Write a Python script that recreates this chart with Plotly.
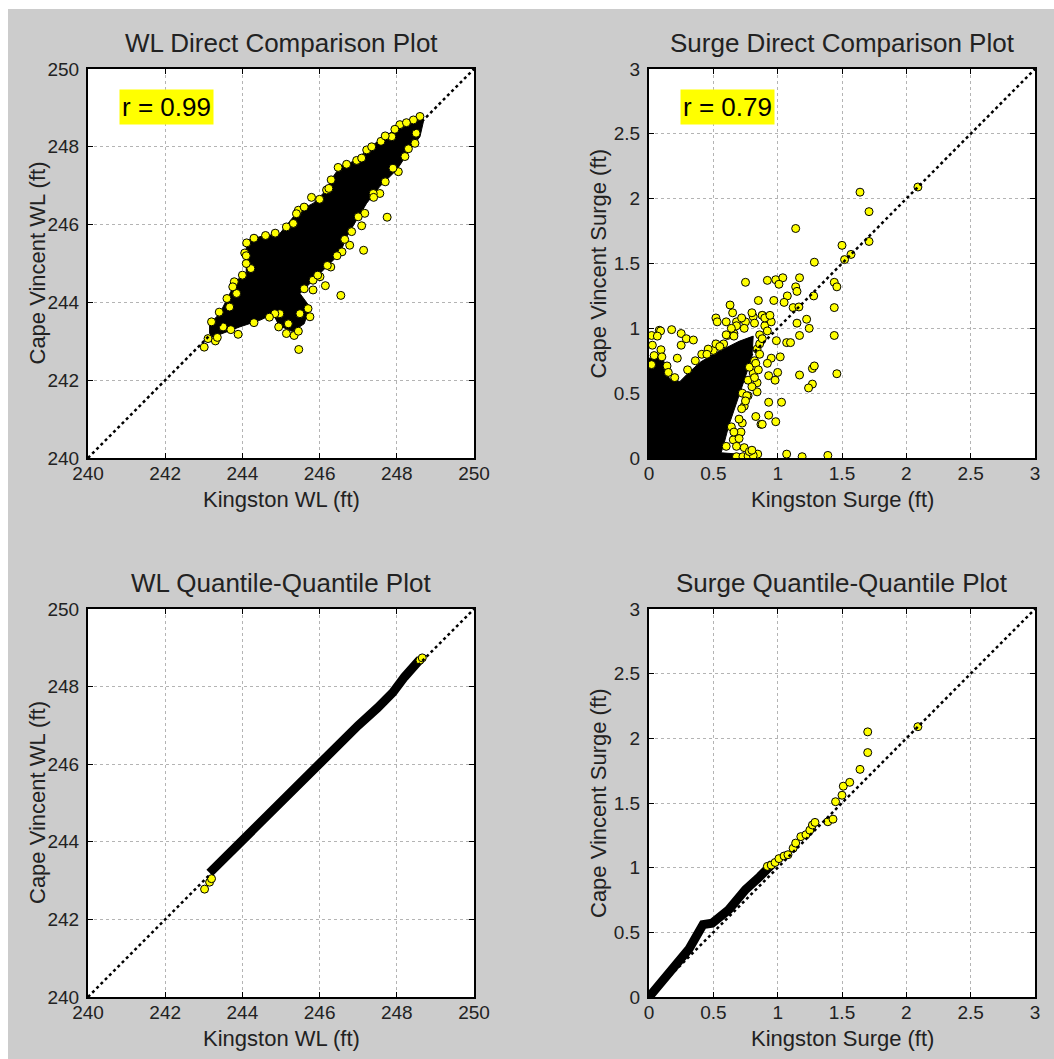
import plotly.graph_objects as go

W, H = 1054, 1059
FONT = "Liberation Sans, Arial, Helvetica, sans-serif"
TXT = "#222222"

# ---------------- data ----------------
wl_ticks = [240, 242, 244, 246, 248, 250]
wl_tick_labels = ["240", "242", "244", "246", "248", "250"]
surge_ticks = [0, 0.5, 1, 1.5, 2, 2.5, 3]
surge_tick_labels = ["0", "0.5", "1", "1.5", "2", "2.5", "3"]
wl_diag = [240, 250]
surge_diag = [0, 3]

titles = ["WL Direct Comparison Plot", "Surge Direct Comparison Plot",
          "WL Quantile-Quantile Plot", "Surge Quantile-Quantile Plot"]
x_titles = ["Kingston WL (ft)", "Kingston Surge (ft)", "Kingston WL (ft)", "Kingston Surge (ft)"]
y_titles = ["Cape Vincent WL (ft)", "Cape Vincent Surge (ft)",
            "Cape Vincent WL (ft)", "Cape Vincent Surge (ft)"]
r_labels = ["r = 0.99", "r = 0.79"]

# WL direct comparison: dense (saturated) core outline
wl_core_x = [243.15, 243.15, 243.41, 243.67, 243.85, 244.10, 244.10, 244.15, 244.45, 244.97,
             245.32, 245.49, 245.84, 246.18, 246.35, 246.53, 246.96, 247.22, 247.56, 248.08,
             248.34, 248.60, 248.69, 248.60, 248.34, 248.00, 247.56, 247.22, 246.96, 246.70,
             246.53, 246.18, 245.84, 245.49, 245.75, 245.60, 245.30, 244.95, 244.80, 244.45,
             243.93, 243.50, 243.24]
wl_core_y = [243.20, 243.45, 243.71, 244.23, 244.57, 244.74, 245.43, 245.60, 245.69, 245.77,
             246.20, 246.37, 246.55, 246.89, 247.23, 247.49, 247.66, 247.92, 248.18, 248.52,
             248.69, 248.78, 248.65, 248.26, 247.92, 247.41, 246.98, 246.55, 246.12, 245.69,
             245.26, 244.91, 244.57, 244.23, 243.88, 243.45, 243.25, 243.40, 243.70, 243.54,
             243.37, 243.20, 243.11]
# WL direct comparison: individual visible points
wl_x = [245.46, 246.55, 246.15, 245.83, 247.14, 247.75, 247.09, 245.79, 246.58, 246.29,
        247.22, 247.59, 244.06, 244.11, 243.79, 244.22, 243.01, 243.11, 243.30, 243.89,
        244.94, 245.14, 245.34, 245.45, 245.19, 245.49, 245.70, 245.75, 244.97, 244.84,
        248.60, 248.43, 248.08, 247.87, 246.96, 247.09, 246.48, 246.18, 246.24, 245.45,
        245.14, 245.32, 248.47, 248.21, 248.04, 247.56, 247.39, 247.17, 246.83, 246.78,
        246.01, 245.83, 243.50, 243.67, 243.85,
        243.20, 243.40, 243.60, 243.75, 244.00, 244.10, 244.10, 244.30, 244.60, 244.85,
        245.40, 245.60, 246.00, 246.30, 246.70, 247.35, 247.70, 247.95, 248.25,
        248.50, 248.30, 247.90, 247.70, 247.40, 247.00, 246.65, 246.45, 246.20, 245.95,
        245.60, 244.70, 244.30, 243.70, 243.35]
wl_y = [242.79, 244.18, 244.43, 244.32, 245.34, 246.19, 245.97, 246.70, 245.30, 244.91,
        247.92, 248.14, 245.27, 245.53, 244.53, 244.87, 242.85, 243.07, 243.01, 243.18,
        243.37, 243.20, 243.15, 243.26, 243.45, 243.71, 243.84, 243.63, 243.71, 243.71,
        248.78, 248.69, 248.57, 248.26, 247.65, 247.71, 247.47, 246.89, 246.93, 246.37,
        245.94, 246.03, 248.09, 247.75, 247.36, 246.80, 246.80, 246.29, 245.82, 245.47,
        244.66, 244.57, 243.37, 243.88, 244.23,
        243.50, 243.75, 244.10, 244.40, 244.70, 245.00, 245.20, 245.65, 245.72, 245.78,
        246.28, 246.45, 246.65, 247.15, 247.55, 248.00, 248.28, 248.45, 248.62,
        248.35, 247.95, 247.45, 247.10, 246.70, 246.20, 245.62, 245.20, 244.95, 244.70,
        244.35, 243.62, 243.48, 243.30, 243.10]

# Surge direct comparison: dense core outline
surge_core_x = [0.00, 0.00, 0.11, 0.13, 0.16, 0.24, 0.30, 0.40, 0.50, 0.60, 0.70, 0.81,
                0.80, 0.74, 0.68, 0.62, 0.58, 0.56, 0.70, 0.84, 0.84]
surge_core_y = [0.00, 0.77, 0.77, 0.68, 0.61, 0.59, 0.65, 0.74, 0.80, 0.85, 0.90, 0.94,
                0.78, 0.60, 0.42, 0.25, 0.10, 0.04, 0.03, 0.02, 0.00]
# Surge direct comparison: individual visible points
surge_x = [2.09, 1.64, 1.71, 1.71, 1.50, 1.52, 1.57, 1.14, 1.285, 0.75, 0.92, 0.985, 1.04,
           1.01, 1.17, 1.14, 1.15, 1.44, 1.46, 1.28, 1.075, 0.97, 1.05, 1.12, 1.165, 1.44,
           1.225, 1.245, 1.15, 1.17, 1.44, 1.07, 1.10, 0.99, 1.02, 0.95, 0.92, 1.00, 0.93,
           0.98, 1.17, 1.46, 1.27, 1.285, 1.27, 1.24, 0.93, 1.03, 0.83, 0.93, 0.87, 0.985,
           1.07, 1.19, 1.39, 0.845, 0.88, 0.52, 0.53, 0.63, 0.65, 0.60, 0.68, 0.81, 0.88,
           0.85, 0.61, 0.66,
           0.026, 0.02, 0.08, 0.09, 0.176, 0.25, 0.25, 0.29, 0.345, 0.093, 0.22, 0.14, 0.02,
           0.065,
           0.41, 0.50, 0.58, 0.725, 0.77, 0.74, 0.725, 0.715, 0.655,
           0.68, 0.81, 0.77, 0.84, 0.84, 0.64, 0.60, 0.68, 0.73, 0.77, 0.81,
           0.78, 0.82, 0.80, 0.76, 0.72, 0.70, 0.66, 0.70, 0.74, 0.78, 0.80,
           0.86, 0.90, 0.75, 0.68, 0.60, 0.92, 0.95, 0.88, 0.80,
           0.84, 0.86, 0.88, 0.83, 0.86, 0.75, 0.82, 0.85,
           0.66, 0.74, 0.82, 0.90, 0.94, 0.72, 0.64, 0.52, 0.46,
           0.30, 0.36, 0.45, 0.55, 0.04, 0.10, 0.15, 0.20]
surge_y = [2.09, 2.05, 1.90, 1.67, 1.64, 1.53, 1.57, 1.77, 1.51, 1.355, 1.37, 1.375, 1.39,
           1.34, 1.39, 1.32, 1.285, 1.355, 1.32, 1.25, 1.25, 1.215, 1.20, 1.16, 1.165, 1.16,
           1.07, 1.00, 1.04, 0.945, 0.945, 0.89, 0.89, 0.905, 0.78, 0.77, 0.73, 0.66, 0.635,
           0.60, 0.64, 0.65, 0.69, 0.71, 0.57, 0.54, 0.43, 0.43, 0.32, 0.33, 0.26, 0.28,
           0.03, 0.01, 0.02, 0.03, 0.26, 1.08, 1.05, 1.18, 1.12, 1.05, 1.05, 1.09, 1.10,
           1.215, 0.945, 0.96,
           0.87, 0.945, 0.985, 0.98, 0.99, 0.96, 0.87, 0.92, 0.91, 0.835, 0.77, 0.71, 0.72,
           0.94,
           0.80, 0.83, 0.88, 0.50, 0.48, 0.40, 0.27, 0.20, 0.14,
           0.09, 0.655, 0.60, 0.58, 0.51, 0.24, 0.09, 0.01, 0.01, 0.015, 0.02,
           0.70, 0.75, 0.55, 0.48, 0.38, 0.30, 0.20, 0.15, 0.08, 0.05, 0.06,
           0.95, 1.02, 1.05, 1.02, 0.95, 0.98, 1.05, 1.10, 1.12,
           0.84, 0.88, 0.92, 0.73, 0.80, 0.44, 0.62, 0.68,
           0.94, 1.00, 1.04, 1.08, 1.10, 1.08, 1.00, 0.88, 0.84,
           0.68, 0.75, 0.80, 0.86, 0.79, 0.78, 0.66, 0.62]

# WL quantile-quantile: saturated band + visible end points
wl_qq_band_x = [243.15, 243.60, 244.00, 244.50, 245.00, 245.50, 246.00, 246.50, 247.00,
                247.50, 247.90, 248.20, 248.60]
wl_qq_band_y = [243.20, 243.65, 244.05, 244.55, 245.05, 245.50, 246.00, 246.50, 247.00,
                247.45, 247.85, 248.25, 248.70]
wl_qq_x = [243.02, 243.15, 243.20, 248.60, 248.66]
wl_qq_y = [242.78, 242.96, 243.05, 248.68, 248.74]

# Surge quantile-quantile: saturated band + visible upper quantiles
surge_qq_band_x = [0.00, 0.10, 0.21, 0.31, 0.42, 0.49, 0.62, 0.75, 0.86, 0.96]
surge_qq_band_y = [0.00, 0.12, 0.24, 0.37, 0.56, 0.57, 0.675, 0.83, 0.93, 1.03]
surge_qq_x = [0.92, 0.95, 0.98, 1.01, 1.05, 1.08, 1.12, 1.14, 1.18, 1.22, 1.25, 1.27, 1.29,
              1.39, 1.43, 1.45, 1.50, 1.51, 1.56, 1.64, 1.70, 1.70, 2.09]
surge_qq_y = [1.01, 1.02, 1.04, 1.07, 1.09, 1.10, 1.15, 1.19, 1.24, 1.255, 1.29, 1.33, 1.35,
              1.355, 1.375, 1.51, 1.56, 1.63, 1.66, 1.76, 1.89, 2.05, 2.09]

# ---------------- layout geometry (pixels) ----------------
COL_X = [(88, 474), (649, 1035)]
ROW_Y = [(69, 458), (609, 997)]


def px(x):
    return x / W


def py(y):
    return 1 - y / H


fig = go.Figure()

MK = dict(color="#ffff00", size=8, line=dict(color="black", width=1))


def add_panel(k, core=None, band=None, band_w=10, pts=None, diag=None):
    xa = "x" if k == 0 else f"x{k+1}"
    ya = "y" if k == 0 else f"y{k+1}"
    if core is not None:
        fig.add_trace(go.Scatter(x=core[0] + [core[0][0]], y=core[1] + [core[1][0]],
                                 mode="lines", fill="toself", fillcolor="black",
                                 line=dict(color="black", width=1), xaxis=xa, yaxis=ya,
                                 hoverinfo="skip", showlegend=False))
    if band is not None:
        fig.add_trace(go.Scatter(x=band[0], y=band[1], mode="lines",
                                 line=dict(color="black", width=band_w),
                                 xaxis=xa, yaxis=ya, hoverinfo="skip", showlegend=False))
    if pts is not None:
        fig.add_trace(go.Scatter(x=pts[0], y=pts[1], mode="markers", marker=MK,
                                 xaxis=xa, yaxis=ya, showlegend=False))
    fig.add_trace(go.Scatter(x=diag, y=diag, mode="lines",
                             line=dict(color="black", width=2.5, dash="dot"),
                             xaxis=xa, yaxis=ya, hoverinfo="skip", showlegend=False))


add_panel(0, core=(wl_core_x, wl_core_y), pts=(wl_x, wl_y), diag=wl_diag)
add_panel(1, core=(surge_core_x, surge_core_y), pts=(surge_x, surge_y), diag=surge_diag)
add_panel(2, band=(wl_qq_band_x, wl_qq_band_y), band_w=9, pts=(wl_qq_x, wl_qq_y), diag=wl_diag)
add_panel(3, band=(surge_qq_band_x, surge_qq_band_y), band_w=9, pts=(surge_qq_x, surge_qq_y),
          diag=surge_diag)


def axis_cfg(dom, rng, tv, tt, anchor, is_y):
    return dict(domain=dom, range=rng, tickvals=tv, ticktext=tt, anchor=anchor,
                showgrid=True, gridcolor="#b4b4b4", gridwidth=1, griddash="3px,3px",
                showline=True, linecolor="black", linewidth=2, mirror="ticks",
                ticks="inside", ticklen=5, tickwidth=1, tickcolor="black",
                zeroline=False, fixedrange=True, automargin=False,
                tickfont=dict(family=FONT, size=19, color=TXT),
                ticklabelstandoff=3 if is_y else -3)


panels = [
    (0, 0, [240, 250], wl_ticks, wl_tick_labels),
    (1, 0, [0, 3], surge_ticks, surge_tick_labels),
    (0, 1, [240, 250], wl_ticks, wl_tick_labels),
    (1, 1, [0, 3], surge_ticks, surge_tick_labels),
]

layout = {}
annotations = []
for k, (c, r, rng, tv, tt) in enumerate(panels):
    x0, x1 = COL_X[c]
    y0, y1 = ROW_Y[r]
    xn = "xaxis" if k == 0 else f"xaxis{k+1}"
    yn = "yaxis" if k == 0 else f"yaxis{k+1}"
    xa = "x" if k == 0 else f"x{k+1}"
    ya = "y" if k == 0 else f"y{k+1}"
    layout[xn] = axis_cfg([px(x0), px(x1)], rng, tv, tt, ya, False)
    layout[yn] = axis_cfg([py(y1), py(y0)], rng, tv, tt, xa, True)
    cx = (x0 + x1) / 2
    cy = (y0 + y1) / 2
    annotations.append(dict(text=titles[k], x=px(cx), y=py(y0 - 26), xref="paper", yref="paper",
                            xanchor="center", yanchor="middle", showarrow=False,
                            font=dict(family=FONT, size=26, color=TXT)))
    annotations.append(dict(text=x_titles[k], x=px(cx), y=py(y1 + 41), xref="paper", yref="paper",
                            xanchor="center", yanchor="middle", showarrow=False,
                            font=dict(family=FONT, size=22, color=TXT)))
    annotations.append(dict(text=y_titles[k], x=px(x0 - 51), y=py(cy), xref="paper", yref="paper",
                            xanchor="center", yanchor="middle", showarrow=False, textangle=-90,
                            font=dict(family=FONT, size=22, color=TXT)))

for k, lab in enumerate(r_labels):
    x0, x1 = COL_X[k]
    y0, _ = ROW_Y[0]
    annotations.append(dict(text=lab, x=px(x0 + 78), y=py(y0 + 38), xref="paper", yref="paper",
                            xanchor="center", yanchor="middle", showarrow=False,
                            bgcolor="#ffff00", borderpad=2,
                            font=dict(family=FONT, size=26, color="black")))

# thin white strips at the top and left edge of the figure window
frame = [
    dict(type="rect", xref="paper", yref="paper", x0=0, x1=1, y0=py(9), y1=1,
         fillcolor="white", line=dict(width=0), layer="below"),
    dict(type="rect", xref="paper", yref="paper", x0=0, x1=px(8), y0=0, y1=1,
         fillcolor="white", line=dict(width=0), layer="below"),
]

fig.update_layout(
    width=W, height=H, autosize=False,
    margin=dict(l=0, r=0, t=0, b=0),
    paper_bgcolor="#cccccc", plot_bgcolor="white",
    showlegend=False,
    annotations=annotations,
    shapes=frame,
    **layout,
)

fig.write_html("out.html", include_plotlyjs=True, full_html=True,
               config={"displayModeBar": False},
               post_script="document.body.style.margin='0';document.body.style.padding='0';"
                           "document.body.style.overflow='hidden';")
